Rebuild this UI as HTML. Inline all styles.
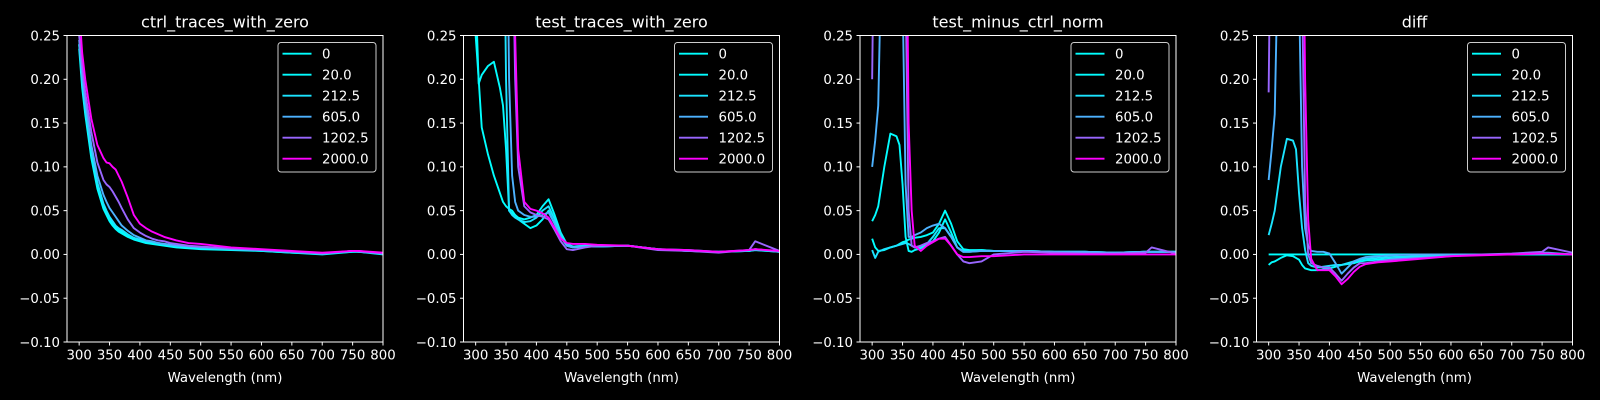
<!DOCTYPE html>
<html><head><meta charset="utf-8"><style>
body{margin:0;background:#000;}
svg{display:block;font-family:"DejaVu Sans","Liberation Sans",sans-serif;}
</style></head><body>
<svg id="fig" width="1600" height="400" xmlns="http://www.w3.org/2000/svg">
<rect width="1600" height="400" fill="#000"/>
</svg>
<script>
const wavelengths=[300,305,310,320,330,340,345,350,355,360,365,370,380,390,400,410,420,430,440,450,460,480,500,550,600,650,700,750,760,800];
const seriesLabels=["0","20.0","212.5","605.0","1202.5","2000.0"];
const panelTitles=["ctrl_traces_with_zero","test_traces_with_zero","test_minus_ctrl_norm","diff"];
const xTicks=[300,350,400,450,500,550,600,650,700,750,800];
const yTicks=[0.25,0.20,0.15,0.10,0.05,0.00,-0.05,-0.10];
const yTickLabels=["0.25","0.20","0.15","0.10","0.05","0.00","\u22120.05","\u22120.10"];
const colors=["#00ffff","#03fcff","#1be4ff","#4db2ff","#9966ff","#ff00ff"];

const ctrl0=[.235,.19,.16,.11,.075,.052,.045,.038,.033,.029,.026,.024,.02,.017,.015,.013,.012,.011,.01,.009,.008,.007,.006,.005,.004,.002,0,.003,.003,0];
const ctrl20=[.24,.195,.163,.113,.078,.055,.047,.04,.035,.031,.028,.026,.022,.018,.016,.014,.013,.012,.011,.01,.009,.008,.007,.006,.004,.002,.001,.003,.003,.001];
const ctrl212=[.24,.2,.168,.118,.082,.058,.05,.043,.038,.033,.03,.028,.023,.019,.017,.015,.014,.013,.012,.011,.01,.009,.008,.006,.005,.003,.001,.004,.003,.001];
const ctrl605=[.245,.205,.175,.125,.09,.068,.06,.053,.048,.043,.038,.033,.027,.022,.019,.016,.015,.013,.012,.011,.01,.009,.008,.006,.005,.003,.001,.004,.003,.001];
const ctrl1202=[.25,.215,.185,.14,.105,.085,.08,.077,.072,.066,.06,.053,.04,.03,.025,.021,.018,.016,.015,.013,.012,.01,.009,.007,.005,.003,.001,.004,.004,.001];
const ctrl2000=[.28,.23,.2,.155,.125,.11,.105,.104,.1,.097,.09,.083,.065,.045,.035,.03,.026,.023,.02,.018,.016,.013,.012,.008,.006,.004,.002,.004,.004,.002];

const test0=[.25,.2,.145,.115,.09,.07,.06,.055,.052,.05,.045,.04,.035,.03,.033,.04,.05,.035,.02,.01,.008,.01,.009,.01,.006,.004,.003,.004,.005,.003];
const test20=[.3,.195,.205,.215,.22,.19,.17,.12,.05,.047,.045,.042,.04,.042,.045,.055,.063,.045,.025,.012,.009,.01,.01,.01,.006,.005,.003,.004,.006,.003];
const test212=[.5,.5,.5,.5,.5,.5,.5,.2,.05,.045,.042,.04,.037,.038,.042,.05,.055,.04,.022,.011,.009,.01,.009,.01,.006,.004,.003,.004,.005,.003];
const test605=[.5,.5,.5,.5,.5,.5,.5,.5,.2,.09,.06,.05,.045,.043,.043,.045,.048,.035,.02,.01,.008,.009,.009,.01,.006,.004,.003,.005,.006,.003];
const test1202=[.5,.5,.5,.5,.5,.5,.5,.5,.5,.4,.2,.1,.055,.048,.045,.043,.04,.028,.015,.006,.005,.008,.01,.01,.005,.004,.002,.005,.015,.004];
const test2000=[.5,.5,.5,.5,.5,.5,.5,.5,.5,.5,.25,.12,.06,.052,.05,.047,.042,.03,.018,.013,.012,.012,.011,.01,.006,.005,.003,.005,.006,.004];

const norm0=[.018,.008,.004,.005,.008,.01,.012,.014,.015,.017,.018,.019,.02,.022,.025,.035,.05,.035,.015,.006,.005,.005,.004,.004,.003,.003,.002,.003,.003,.003];
const norm20=[.038,.045,.055,.1,.138,.135,.125,.08,.02,.004,.003,.005,.007,.01,.015,.025,.04,.025,.008,.004,.004,.005,.004,.004,.003,.003,.002,.003,.003,.003];
const norm212=[.005,-.004,.003,.006,.008,.01,.011,.012,.013,.012,.01,.008,.008,.012,.02,.03,.03,.02,.008,.003,.003,.004,.004,.004,.003,.003,.002,.003,.003,.003];
const norm605=[.1,.13,.17,.5,.5,.5,.5,.3,.08,.02,.02,.022,.025,.03,.033,.035,.03,.02,.008,.003,.003,.004,.004,.004,.003,.003,.002,.003,.003,.003];
const norm1202=[.2,.5,.5,.5,.5,.5,.5,.5,.3,.05,.01,.008,.01,.013,.015,.018,.02,.01,0,-.008,-.01,-.008,0,.003,.002,.001,.001,.002,.008,.001];
const norm2000=[.5,.5,.5,.5,.5,.5,.5,.5,.5,.15,.05,.01,.004,.01,.014,.018,.018,.01,0,-.003,-.003,-.002,-.002,0,0,0,0,0,0,0];

const diff0=[0,0,0,0,0,0,0,0,0,0,0,0,0,0,0,0,0,0,0,0,0,0,0,0,0,0,0,0,0,0];
const diff20=[-.012,-.009,-.008,-.004,-.001,-.002,-.004,-.006,-.012,-.016,-.017,-.018,-.018,-.017,-.016,-.014,-.012,-.011,-.01,-.008,-.007,-.006,-.005,-.003,-.001,0,0,0,0,0];
const diff212=[.022,.035,.05,.1,.132,.13,.12,.07,.03,.005,-.01,-.013,-.015,-.014,-.013,-.012,-.012,-.01,-.008,-.006,-.005,-.004,-.003,-.002,0,0,0,.001,.001,0];
const diff605=[.085,.12,.16,.5,.5,.5,.5,.3,.1,.03,.01,.004,.003,.003,.001,-.01,-.022,-.015,-.008,-.005,-.003,-.002,-.001,0,0,0,0,.002,.002,0];
const diff1202=[.185,.5,.5,.5,.5,.5,.5,.5,.3,.06,0,-.01,-.013,-.015,-.015,-.022,-.03,-.022,-.015,-.01,-.01,-.008,-.006,-.004,-.002,0,.001,.003,.008,.002];
const diff2000=[.5,.5,.5,.5,.5,.5,.5,.5,.5,.2,.04,-.005,-.018,-.018,-.018,-.025,-.034,-.028,-.02,-.014,-.011,-.009,-.008,-.005,-.002,-.001,0,.001,.001,0];

const panels=[[ctrl0,ctrl20,ctrl212,ctrl605,ctrl1202,ctrl2000],[test0,test20,test212,test605,test1202,test2000],[norm0,norm20,norm212,norm605,norm1202,norm2000],[diff0,diff20,diff212,diff605,diff1202,diff2000]];

const NS="http://www.w3.org/2000/svg";
const svg=document.getElementById('fig');
function mk(tag,attrs,parent){const e=document.createElementNS(NS,tag);for(const k in attrs)e.setAttribute(k,attrs[k]);(parent||svg).appendChild(e);return e;}
const X0=280,X1=800,Y0=-0.10,Y1=0.25,W=316,TOP=35.5,BOT=342;
const lefts=[67,463.5,860,1256.5];
panels.forEach((series,p)=>{
  const L=lefts[p];
  const xs=v=>L+(v-X0)/(X1-X0)*W;
  const ys=v=>BOT-(v-Y0)/(Y1-Y0)*(BOT-TOP);
  const g=mk('g',{});
  
  
  const cp=mk('clipPath',{id:'cp'+p},g);
  mk('rect',{x:L,y:TOP,width:W,height:BOT-TOP},cp);
  const lines=mk('g',{'clip-path':'url(#cp'+p+')'},g);
  
  
  series.forEach((vals,s)=>{
    const d=vals.map((v,i)=>(i?'L':'M')+xs(wavelengths[i]).toFixed(2)+' '+ys(v).toFixed(2)).join(' ');
    const path=mk('path',{d:d,fill:'none',stroke:colors[s],'stroke-width':1.9,'stroke-linejoin':'round'},lines);
    
    
  });
  const frame=mk('rect',{x:L,y:TOP,width:W,height:BOT-TOP,fill:'none',stroke:'#fff','stroke-width':1},g);
  
  
  xTicks.forEach(t=>{
    const x=xs(t);
    mk('line',{x1:x,x2:x,y1:BOT,y2:BOT+3.5,stroke:'#fff','stroke-width':1},g);
    const tx=mk('text',{x:x,y:BOT+17.5,fill:'#fff','font-size':'13.3px','text-anchor':'middle'},g);
    tx.textContent=t;
    
    
  });
  yTicks.forEach((t,i)=>{
    const y=ys(t);
    mk('line',{x1:L-3.5,x2:L,y1:y,y2:y,stroke:'#fff','stroke-width':1},g);
    const ty=mk('text',{x:L-7,y:y+4.8,fill:'#fff','font-size':'13.3px','text-anchor':'end'},g);
    ty.textContent=yTickLabels[i];
    
    
  });
  const title=mk('text',{x:L+W/2,y:27.5,fill:'#fff','font-size':'16px','text-anchor':'middle'},g);
  title.textContent=panelTitles[p];
  
  
  const xl=mk('text',{x:L+W/2,y:382,fill:'#fff','font-size':'13.3px','text-anchor':'middle'},g);
  xl.textContent='Wavelength (nm)';
  
  
  const lg=mk('g',{},g);
  
  
  const lx=L+W-105;
  mk('rect',{x:lx,y:42.5,width:98,height:129.5,rx:3,fill:'#000','fill-opacity':0.8,stroke:'#ccc','stroke-width':1},lg);
  seriesLabels.forEach((lab,s)=>{
    const cy=53.7+s*21;
    const ln=mk('line',{x1:lx+4.5,x2:lx+33.5,y1:cy,y2:cy,stroke:colors[s],'stroke-width':1.9},lg);
    
    
    const t=mk('text',{x:lx+44,y:cy+4.8,fill:'#fff','font-size':'13.3px'},lg);
    t.textContent=lab;
    
    
  });
});
</script>
</body></html>
